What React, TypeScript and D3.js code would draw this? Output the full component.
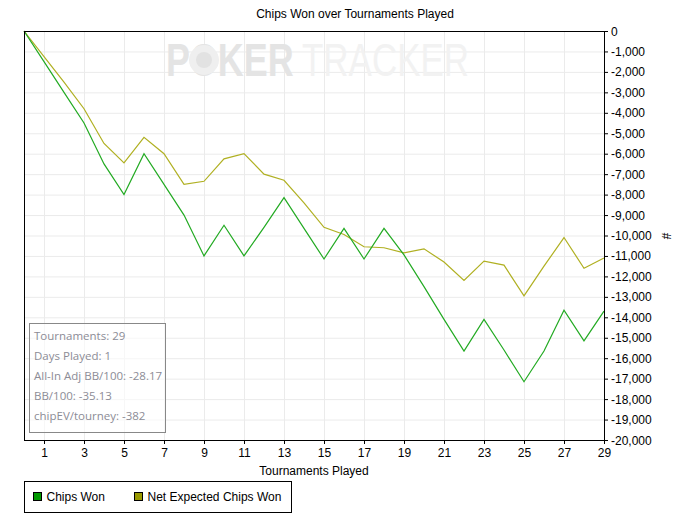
import React from "react";
import * as d3 from "d3";

const tournaments = d3.range(0, 30);
const chipsWon = [0, -1500, -3000, -4500, -6500, -8000, -6000, -7500, -9000, -11000, -9500, -11000, -9600, -8150, -9650, -11150, -9650, -11150, -9650, -10950, -12500, -14100, -15650, -14100, -15600, -17150, -15650, -13650, -15150, -13700];
const netExpected = [0, -1250, -2500, -3800, -5500, -6450, -5200, -6000, -7500, -7350, -6250, -6000, -7000, -7300, -8400, -9600, -9950, -10550, -10600, -10850, -10650, -11300, -12200, -11250, -11450, -12950, -11500, -10100, -11600, -11100];
const xTicks = [1, 3, 5, 7, 9, 11, 13, 15, 17, 19, 21, 23, 25, 27, 29];
const yTicks = d3.range(0, -20001, -1000);
const statsLines = ["Tournaments: 29", "Days Played: 1", "All-In Adj BB/100: -28.17", "BB/100: -35.13", "chipEV/tourney: -382"];
const legendItems = [
  { name: "Chips Won", swatch: "#009900" },
  { name: "Net Expected Chips Won", swatch: "#999900" },
];

const W = 684;
const H = 523;
const left = 24;
const right = 604;
const top = 31;
const bottom = 440;
const font = "'Liberation Sans', Arial, sans-serif";

export default function App() {
  const x = d3.scaleLinear().domain([0, 29]).range([left, right]);
  const y = d3.scaleLinear().domain([0, -20000]).range([top, bottom]);
  const line = d3
    .line<number>()
    .x((_, i) => x(tournaments[i]))
    .y((d) => y(d));
  const fmt = d3.format(",");

  return (
    <svg
      width={W}
      height={H}
      style={{ position: "absolute", left: 0, top: 0, background: "#fff" }}
      fontFamily={font}
    >
      <rect x={0} y={0} width={W} height={H} fill="#fff" />
      <text x={355} y={18} textAnchor="middle" fontSize={12} fill="#000">
        Chips Won over Tournaments Played
      </text>

      {/* grid */}
      {yTicks.map((t) => (
        <line key={"gy" + t} x1={left} x2={right} y1={y(t) + 0.5} y2={y(t) + 0.5} stroke="#ebebeb" />
      ))}
      {xTicks.map((t) => (
        <line key={"gx" + t} x1={x(t) + 0.5} x2={x(t) + 0.5} y1={top} y2={bottom} stroke="#ebebeb" />
      ))}

      {/* watermark */}
      <g>
        <text transform="translate(166,76) scale(0.78,1)" fontSize={46} fontWeight="bold" fill="#e4e4e4">
          POKER
        </text>
        <circle cx={204} cy={60} r={15} fill="#efefef" />
        <circle cx={204} cy={60} r={8} fill="#e2e2e2" />
        <text transform="translate(302,76) scale(0.76,1)" fontSize={46} fill="#f2f2f2">
          TRACKER
        </text>
      </g>

      {/* lines */}
      <path d={line(netExpected) || ""} fill="none" stroke="#b0b022" strokeWidth={1.2} />
      <path d={line(chipsWon) || ""} fill="none" stroke="#22aa22" strokeWidth={1.2} />

      {/* frame */}
      <rect x={left + 0.5} y={top + 0.5} width={right - left} height={bottom - top} fill="none" stroke="#000" />

      {/* right axis */}
      {yTicks.map((t) => (
        <g key={"ty" + t}>
          <line x1={right} x2={right + 4} y1={y(t) + 0.5} y2={y(t) + 0.5} stroke="#000" />
          <text x={right + 7} y={y(t) + 4.5} fontSize={12} fill="#000">
            {fmt(t).replace("−", "-")}
          </text>
        </g>
      ))}
      <text
        x={666}
        y={236}
        fontSize={12}
        textAnchor="middle"
        transform="rotate(90 666 236)"
        dy={4}
        fill="#000"
      >
        #
      </text>

      {/* bottom axis */}
      {xTicks.map((t) => (
        <g key={"tx" + t}>
          <line x1={x(t) + 0.5} x2={x(t) + 0.5} y1={bottom} y2={bottom + 4} stroke="#000" />
          <text x={x(t) + 0.5} y={457} fontSize={12} textAnchor="middle" fill="#000">
            {t}
          </text>
        </g>
      ))}
      <text x={314} y={475} fontSize={12} textAnchor="middle" fill="#000">
        Tournaments Played
      </text>

      {/* stats box */}
      <rect x={29.5} y={323.5} width={136} height={109} fill="#fff" fillOpacity={0.6} stroke="#888" />
      {statsLines.map((s, i) => (
        <text key={s} x={34} y={340 + i * 20} fontSize={11.5} fill="#8c8c96" fontFamily="'Open Sans', 'Noto Sans', sans-serif">
          {s}
        </text>
      ))}

      {/* legend */}
      <rect x={24.5} y={481.5} width={267} height={31} fill="#fff" stroke="#000" />
      {legendItems.map((it, i) => {
        const lx = i === 0 ? 33.5 : 134.5;
        return (
          <g key={it.name}>
            <rect x={lx} y={492.5} width={8} height={8} fill={it.swatch} stroke="#000" />
            <text x={lx + 13} y={501} fontSize={12} fill="#000">
              {it.name}
            </text>
          </g>
        );
      })}
    </svg>
  );
}
